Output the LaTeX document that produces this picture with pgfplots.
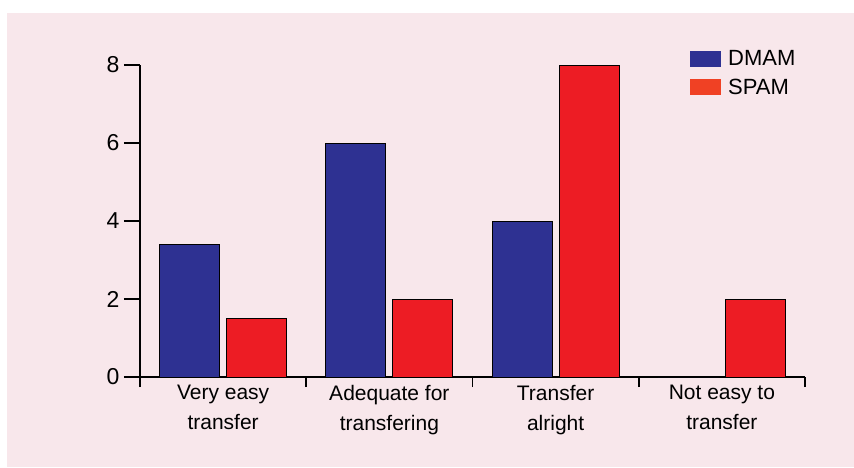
\documentclass[border=0pt]{standalone}
\usepackage{pgfplots}
\pgfplotsset{compat=1.18}
\usepackage{fontspec}
\setmainfont{Liberation Sans}
\definecolor{bg}{HTML}{F8E7EB}
\definecolor{dmam}{HTML}{2E3192}
\definecolor{spam}{HTML}{ED1C24}
\definecolor{spamleg}{HTML}{F04124}
\begin{document}
\begin{tikzpicture}[x=1pt,y=1pt]
\fill[white] (0,0) rectangle (854,467);
\fill[bg] (7,0) rectangle (854,454);
\begin{axis}[
  at={(140pt,90pt)}, anchor=origin,
  scale only axis, width=665pt, height=312pt,
  xmin=0, xmax=4, ymin=0, ymax=8,
  axis x line*=bottom, axis y line*=left,
  axis line style={line width=2pt, -},
  ytick={0,2,4,6,8},
  xtick={0,1,2,3,4}, xticklabels={},
  extra x ticks={0.5,1.5,2.5,3.5},
  extra x tick labels={{Very easy\\transfer},{Adequate for\\transfering},{Transfer\\alright},{Not easy to\\transfer}},
  extra x tick style={major tick length=0pt, tick style={draw=none}},
  tick align=outside,
  major tick length=16pt,
  tick style={line width=1.6pt, black},
  xtick style={/pgfplots/major tick length=10pt},
  xticklabel style={align=center, font=\fontsize{21}{30}\selectfont, yshift=-5pt},
  yticklabel style={font=\fontsize{23}{26}\selectfont, xshift=-1pt},
  /pgf/number format/assume math mode=true,
  ybar, bar width=60pt,
  clip=false,
  legend style={at={(rel axis cs:0.827,1.048)}, anchor=north west, draw=none, fill=none,
    font=\fontsize{22}{24}\selectfont, inner sep=0pt, row sep=12pt,
    nodes={inner sep=0pt, anchor=west}},
  legend cell align=left,
  legend image code/.code={\fill[#1] (0pt,-8pt) rectangle (31pt,8pt);},
  /pgfplots/every legend image post/.style={},
]
\addplot[fill=dmam, draw=black, line width=0.8pt, forget plot, bar shift=-33.5pt] coordinates {(0.5,3.4) (1.5,6) (2.5,4) (3.5,0)};
\addplot[fill=spam, draw=black, line width=0.8pt, forget plot, bar shift=33.5pt] coordinates {(0.5,1.5) (1.5,2) (2.5,8) (3.5,2)};
\addlegendimage{fill=dmam, draw=none}
\addlegendentry{\hspace{7pt}DMAM}
\addlegendimage{fill=spamleg, draw=none}
\addlegendentry{\hspace{7pt}SPAM}
\end{axis}
\end{tikzpicture}
\end{document}
